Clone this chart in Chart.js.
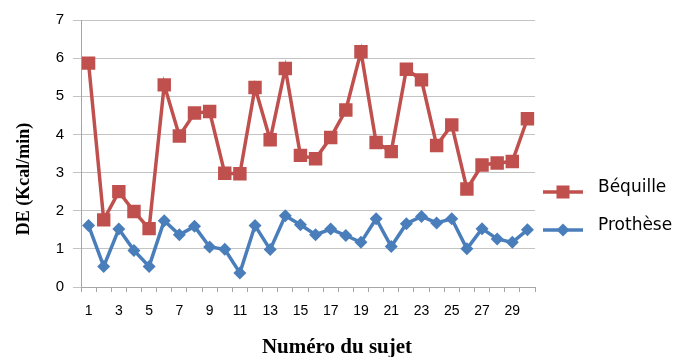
<!DOCTYPE html>
<html>
<head>
<meta charset="utf-8">
<script src="https://cdn.jsdelivr.net/npm/chart.js@4.4.1/dist/chart.umd.min.js"></script>
<style>
  html, body { margin: 0; padding: 0; background: #ffffff; }
  canvas { display: block; }
</style>
</head>
<body>
<canvas id="c" width="692" height="357"></canvas>
<script>
// Subject numbers (x categories)
const categories = ['1','2','3','4','5','6','7','8','9','10','11','12','13','14','15',
                    '16','17','18','19','20','21','22','23','24','25','26','27','28','29','30'];
// Energy expenditure (kcal/min) per subject
const bequille = [5.87, 1.76, 2.50, 1.98, 1.53, 5.30, 3.96, 4.56, 4.60, 2.98,
                  2.97, 5.23, 3.86, 5.73, 3.45, 3.36, 3.92, 4.64, 6.17, 3.79,
                  3.55, 5.71, 5.43, 3.71, 4.25, 2.57, 3.20, 3.25, 3.29, 4.41];
const prothese = [1.61, 0.54, 1.52, 0.96, 0.54, 1.74, 1.37, 1.59, 1.05, 0.99,
                  0.37, 1.61, 0.98, 1.87, 1.63, 1.37, 1.52, 1.35, 1.17, 1.79,
                  1.06, 1.66, 1.85, 1.68, 1.79, 1.00, 1.53, 1.26, 1.17, 1.50];
// Value axis ticks
const yTicks = [0, 1, 2, 3, 4, 5, 6, 7];
const seriesNames = ['Béquille', 'Prothèse'];
const xTitle = 'Numéro du sujet';
const yTitle = 'DE (Kcal/min)';

const RED = '#C0504D';
const BLUE = '#4A7EBB';

// Legend on the right: line segment with its marker, then the series name
const sideLegend = {
  id: 'sideLegend',
  afterDraw(chart) {
    const ctx = chart.ctx;
    const x0 = chart.chartArea.right + 8;
    const items = [
      { name: seriesNames[0], color: RED, shape: 'square', y: 192, ty: 188 },
      { name: seriesNames[1], color: BLUE, shape: 'diamond', y: 230, ty: 226 }
    ];
    ctx.save();
    items.forEach(it => {
      ctx.strokeStyle = it.color;
      ctx.lineWidth = 3.5;
      ctx.beginPath();
      ctx.moveTo(x0, it.y);
      ctx.lineTo(x0 + 40, it.y);
      ctx.stroke();
      ctx.fillStyle = it.color;
      const cx = x0 + 20;
      if (it.shape === 'square') {
        ctx.fillRect(cx - 6.5, it.y - 6.5, 13, 13);
      } else {
        ctx.beginPath();
        ctx.moveTo(cx, it.y - 6.5);
        ctx.lineTo(cx + 6.5, it.y);
        ctx.lineTo(cx, it.y + 6.5);
        ctx.lineTo(cx - 6.5, it.y);
        ctx.closePath();
        ctx.fill();
      }
      ctx.fillStyle = '#000000';
      ctx.font = '17px "DejaVu Sans"';
      ctx.textBaseline = 'middle';
      ctx.textAlign = 'left';
      ctx.fillText(it.name, x0 + 55, it.ty);
    });
    ctx.restore();
  }
};

// Axis titles, placed independently of the plot area centre
const axisTitles = {
  id: 'axisTitles',
  afterDraw(chart) {
    const ctx = chart.ctx;
    ctx.save();
    ctx.fillStyle = '#000000';
    ctx.textAlign = 'center';
    ctx.textBaseline = 'alphabetic';
    ctx.font = 'bold 21px "Liberation Serif"';
    ctx.fillText(xTitle, 337, 353);
    ctx.translate(24, 179);
    ctx.rotate(-Math.PI / 2);
    ctx.textBaseline = 'middle';
    ctx.font = 'bold 18px "Liberation Serif"';
    ctx.fillText(yTitle, 0, 0);
    ctx.restore();
  }
};

new Chart(document.getElementById('c'), {
  type: 'line',
  data: {
    labels: categories,
    datasets: [
      {
        label: seriesNames[0],
        data: bequille,
        borderColor: RED,
        backgroundColor: RED,
        borderWidth: 3.5,
        pointStyle: 'rect',
        pointRadius: 9.5,
        pointHoverRadius: 9.5,
        pointBorderWidth: 0,
        pointBackgroundColor: RED,
        tension: 0
      },
      {
        label: seriesNames[1],
        data: prothese,
        borderColor: BLUE,
        backgroundColor: BLUE,
        borderWidth: 3.5,
        pointStyle: 'rectRot',
        pointRadius: 6.5,
        pointHoverRadius: 6.5,
        pointBorderWidth: 0,
        pointBackgroundColor: BLUE,
        tension: 0
      }
    ]
  },
  options: {
    responsive: false,
    animation: false,
    devicePixelRatio: 1,
    layout: { padding: { top: 20, right: 157, bottom: 0, left: 0 } },
    plugins: { legend: { display: false }, tooltip: { enabled: false } },
    scales: {
      x: {
        type: 'category',
        offset: true,
        afterFit(scale) { scale.height = 70; },
        grid: {
          offset: true,
          drawOnChartArea: false,
          drawTicks: true,
          tickLength: 5,
          color: '#a6a6a6'
        },
        border: { display: true, color: '#a6a6a6', width: 1 },
        ticks: {
          autoSkip: false,
          maxRotation: 0,
          padding: 11,
          color: '#000000',
          font: { family: '"Liberation Sans"', size: 14 },
          callback(value, index) { return index % 2 === 0 ? categories[index] : ''; }
        },
        title: { display: false }
      },
      y: {
        min: 0,
        max: 7,
        afterFit(scale) { scale.width = 81; },
        afterBuildTicks(scale) { scale.ticks = yTicks.map(v => ({ value: v })); },
        grid: {
          color: '#c4c4c4',
          lineWidth: 1,
          tickLength: 8,
          drawTicks: true
        },
        border: { display: true, color: '#a6a6a6', width: 1 },
        ticks: {
          padding: 9,
          color: '#000000',
          font: { family: '"Liberation Sans"', size: 15 }
        },
        title: { display: false }
      }
    }
  },
  plugins: [sideLegend, axisTitles]
});
</script>
</body>
</html>
